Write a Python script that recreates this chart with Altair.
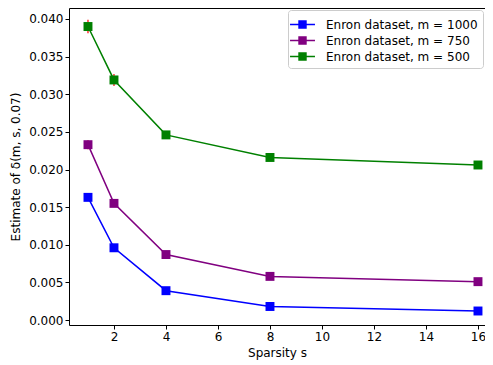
import altair as alt
import pandas as pd

sparsity = [1, 2, 4, 8, 16]
series_names = ["Enron dataset, m = 1000", "Enron dataset, m = 750", "Enron dataset, m = 500"]
vals_1000 = [0.0163, 0.0096, 0.0039, 0.0018, 0.0012]
vals_750 = [0.0233, 0.0155, 0.0087, 0.0058, 0.0051]
vals_500 = [0.0390, 0.0319, 0.0246, 0.0216, 0.0206]
err_1000 = [0.0003, 0.0002, 0.0001, 0.0001, 0.0001]
err_750 = [0.0006, 0.0003, 0.0002, 0.0001, 0.0001]
err_500 = [0.0009, 0.0008, 0.0003, 0.0002, 0.0001]
colors = ["#0000ff", "#800080", "#008000"]

rows = []
for name, vals, errs in zip(series_names, [vals_1000, vals_750, vals_500], [err_1000, err_750, err_500]):
    for s, v, e in zip(sparsity, vals, errs):
        rows.append({"s": s, "v": v, "lo": v - e, "hi": v + e, "series": name})
df = pd.DataFrame(rows)

FONT = "DejaVu Sans"
xscale = alt.Scale(domain=[0.27, 16.27], nice=False, zero=False)
yscale = alt.Scale(domain=[-0.00066, 0.04146], nice=False, zero=False)
cscale = alt.Scale(domain=series_names, range=colors)

xaxis = alt.Axis(values=[2, 4, 6, 8, 10, 12, 14, 16], title="Sparsity s", grid=False,
                 labelFlush=False, labelOverlap=False)
yaxis = alt.Axis(values=[0, 0.005, 0.01, 0.015, 0.02, 0.025, 0.03, 0.035, 0.04], format=".3f",
                 title="Estimate of δ(m, s, 0.07)", grid=False, labelOverlap=False)

X = alt.X("s:Q", scale=xscale, axis=xaxis)
Y = alt.Y("v:Q", scale=yscale, axis=yaxis)

legend_symbol = "M-1.44,0H1.44M-0.4,-0.4H0.4V0.4H-0.4Z"
leg = alt.Legend(orient="top-right", symbolType=legend_symbol, symbolSize=300,
                 symbolStrokeWidth=1.5, labelFontSize=12, labelFont=FONT,
                 labelColor="black", rowPadding=0, padding=5, labelOffset=14,
                 strokeColor="#cccccc", fillColor="white", cornerRadius=3,
                 offset=2, labelLimit=300, title=None, symbolOpacity=1)
C = alt.Color("series:N", scale=cscale, legend=leg)

base = alt.Chart(df)

err = base.mark_rule(color="red", strokeWidth=1.2).encode(
    x=X,
    y=alt.Y("lo:Q", scale=yscale, axis=yaxis),
    y2="hi:Q",
    detail="series:N",
)

line = base.mark_line(strokeWidth=1.5).encode(x=X, y=Y, color=C)

pts = base.mark_point(shape="square", filled=True, size=80, opacity=1).encode(
    x=X, y=Y, color=C,
)

chart = alt.layer(err, line, pts).properties(
    width=416, height=317,
    autosize=alt.AutoSizeParams(type="none"),
    padding={"left": 61, "top": 0, "right": 0, "bottom": 40},
).configure_view(stroke="black", strokeWidth=1).configure_axis(
    domain=False, tickColor="black", tickSize=4, labelFont=FONT, titleFont=FONT,
    labelFontSize=12, titleFontSize=12, labelColor="black", titleColor="black",
    titleFontWeight="normal", labelPadding=2,
).configure_axisX(titlePadding=5).configure_axisY(titlePadding=6)

chart.save("out.html", embed_options={"renderer": "svg", "actions": False})
